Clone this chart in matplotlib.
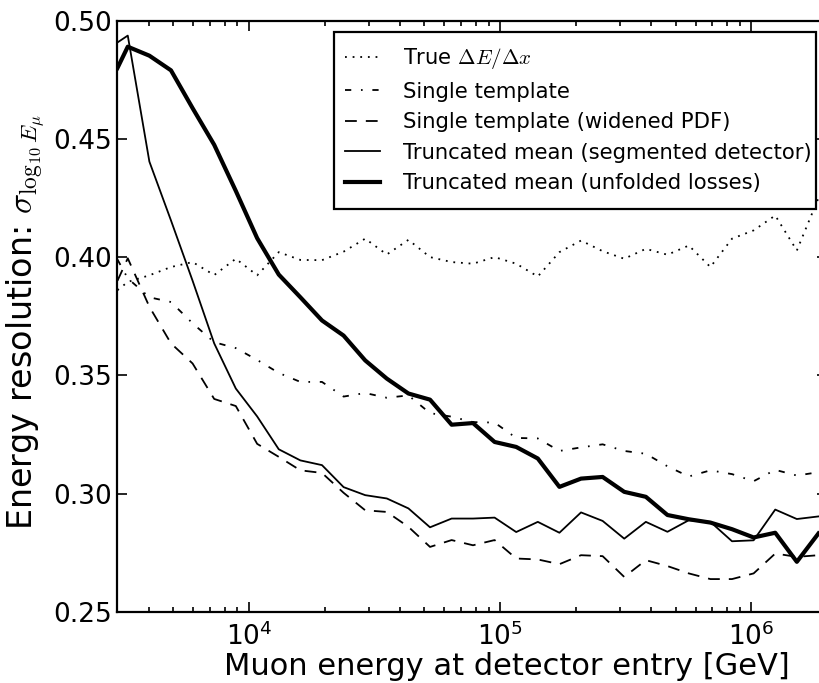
import numpy as np
import matplotlib
matplotlib.use("Agg")
import matplotlib.pyplot as plt
from matplotlib.patches import Rectangle
from matplotlib.ticker import LogLocator, FixedLocator

plt.rcParams['font.family'] = ['DejaVu Sans']
plt.rcParams['mathtext.fontset'] = 'cm'
plt.rcParams['lines.scale_dashes'] = False

# log10 of muon energy [GeV] at the bin points
log_energy = [3.477, 3.518, 3.604, 3.690, 3.776, 3.862, 3.948, 4.033, 4.119, 4.205,
              4.291, 4.377, 4.463, 4.549, 4.635, 4.721, 4.807, 4.892, 4.978, 5.064,
              5.150, 5.236, 5.322, 5.408, 5.494, 5.580, 5.666, 5.751, 5.837, 5.923,
              6.009, 6.095, 6.181, 6.267]

true_dedx = [0.386, 0.3895, 0.3923, 0.3958, 0.3979, 0.3924, 0.3993, 0.3923, 0.4021, 0.3988,
             0.3987, 0.4023, 0.4078, 0.4011, 0.4073, 0.4000, 0.3979, 0.3972, 0.4000, 0.3972,
             0.3918, 0.4021, 0.4070, 0.4025, 0.3993, 0.4035, 0.4010, 0.4049, 0.3958, 0.4078,
             0.4113, 0.4176, 0.4028, 0.4250]

single_template = [0.399, 0.391, 0.383, 0.381, 0.372, 0.364, 0.3615, 0.3565, 0.351, 0.3472,
                   0.3472, 0.341, 0.3425, 0.3405, 0.3415, 0.3340, 0.3325, 0.3302, 0.3300, 0.3235,
                   0.3233, 0.3180, 0.3195, 0.3208, 0.3180, 0.3168, 0.3115, 0.3072, 0.3098, 0.3082,
                   0.3052, 0.3100, 0.3076, 0.3090]

widened_pdf = [0.390, 0.3995, 0.379, 0.3635, 0.355, 0.340, 0.3370, 0.3210, 0.3155, 0.3098,
               0.3087, 0.3003, 0.2929, 0.2922, 0.2859, 0.2774, 0.2803, 0.2781, 0.2803, 0.2725,
               0.2721, 0.2701, 0.2739, 0.2735, 0.2647, 0.2718, 0.2693, 0.2662, 0.2638, 0.2638,
               0.2662, 0.2746, 0.2732, 0.2739]

segmented = [0.4908, 0.4937, 0.4404, 0.4155, 0.390, 0.3635, 0.3444, 0.3326, 0.3187, 0.3140,
             0.3120, 0.3027, 0.2993, 0.2979, 0.2937, 0.2857, 0.2894, 0.2894, 0.2898, 0.2837,
             0.2880, 0.2834, 0.2920, 0.2884, 0.2809, 0.2880, 0.2838, 0.2887, 0.2880, 0.2798,
             0.2802, 0.2932, 0.2892, 0.2903]

unfolded = [0.480, 0.489, 0.4852, 0.4790, 0.463, 0.4475, 0.428, 0.408, 0.3926, 0.383,
            0.3732, 0.3668, 0.3563, 0.3486, 0.3423, 0.3397, 0.3291, 0.3298, 0.3218, 0.3197,
            0.3148, 0.3028, 0.3063, 0.3070, 0.3007, 0.2986, 0.2909, 0.2891, 0.2877, 0.2849,
            0.2814, 0.2834, 0.2711, 0.2831]

labels = [r"True $\Delta E/\Delta x$",
          "Single template",
          "Single template (widened PDF)",
          "Truncated mean (segmented detector)",
          "Truncated mean (unfolded losses)"]

yticks = [0.25, 0.30, 0.35, 0.40, 0.45, 0.50]

energy = 10 ** np.array(log_energy)

W, H = 819, 683
fig = plt.figure(figsize=(W / 100, H / 100), dpi=100)
ax = fig.add_axes([117.5 / W, 1 - 611.7 / H, 709.5 / W, 591.0 / H])

ax.plot(energy, true_dedx, color="k", lw=1.3, dashes=(1.3, 4.2), label=labels[0])
ax.plot(energy, single_template, color="k", lw=1.3, dashes=(4.5, 7, 1.2, 7), label=labels[1])
ax.plot(energy, widened_pdf, color="k", lw=1.3, dashes=(8.5, 6.5), label=labels[2])
ax.plot(energy, segmented, color="k", lw=1.3, label=labels[3])
ax.plot(energy, unfolded, color="k", lw=3.0, label=labels[4])

ax.set_xscale("log")
ax.set_xlim(3e3, 2e6)
ax.set_ylim(0.25, 0.50)
ax.yaxis.set_major_locator(FixedLocator(yticks))
ax.set_yticklabels(["%.2f" % v for v in yticks])
ax.xaxis.set_major_locator(LogLocator(base=10))
ax.xaxis.set_minor_locator(LogLocator(base=10, subs=np.arange(2, 10)))

for s in ax.spines.values():
    s.set_linewidth(1.6)
ax.tick_params(which="both", direction="in", top=True, right=True, width=1.2)
ax.tick_params(which="major", length=7, labelsize=19)
ax.tick_params(axis="y", which="major", pad=4)
ax.tick_params(axis="x", which="major", pad=8)
ax.tick_params(which="minor", length=3.5)
for t in ax.get_xticklabels():
    t.set_math_fontfamily("dejavusans")

ax.set_xlabel("Muon energy at detector entry [GeV]", fontsize=22)
ax.xaxis.set_label_coords(0.549, -0.068)
ax.set_ylabel(r"Energy resolution: $\sigma_{\log_{10}E_\mu}$", fontsize=24)
ax.yaxis.set_label_coords(-0.1, 0.49)

# legend box: frame drawn by hand so the text can sit close to its right edge
box = Rectangle((334 / W, 1 - 209 / H), (816 - 334) / W, (209 - 32) / H,
                transform=fig.transFigure, facecolor="white", edgecolor="k",
                lw=1.6, zorder=4, clip_on=False)
ax.add_patch(box)
leg = ax.legend(loc="upper left", bbox_to_anchor=(345 / W, 1 - 46 / H),
                bbox_transform=fig.transFigure, borderaxespad=0, borderpad=0,
                fontsize=15.2, frameon=False, handlelength=1.66,
                handletextpad=1.09, labelspacing=0.5)
leg.set_zorder(5)

fig.savefig("out.png", dpi=100, facecolor="white")
